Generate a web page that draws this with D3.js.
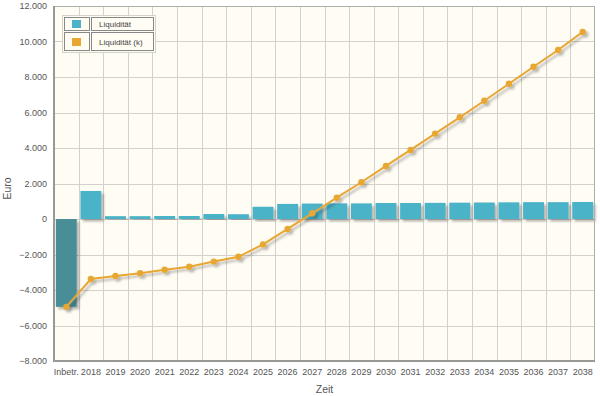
<!DOCTYPE html>
<html>
<head>
<meta charset="utf-8">
<script src="https://cdn.jsdelivr.net/npm/d3@7"></script>
<style>
  body { margin: 0; background: #fff; }
  svg { display: block; font-family: "Liberation Sans", Arial, sans-serif; }
</style>
</head>
<body>
<div id="chart"></div>
<script>
// data
const categories = ["Inbetr.", "2018", "2019", "2020", "2021", "2022", "2023", "2024", "2025", "2026", "2027",
  "2028", "2029", "2030", "2031", "2032", "2033", "2034", "2035", "2036", "2037", "2038"];
const liquiditaet = [-4950, 1580, 160, 160, 170, 170, 280, 270, 690, 850, 870,
  880, 880, 900, 900, 910, 920, 930, 940, 950, 950, 960];
const liquiditaetKum = [-4950, -3380, -3210, -3060, -2860, -2690, -2400, -2130, -1430, -560, 320,
  1200, 2070, 2990, 3890, 4810, 5730, 6660, 7620, 8580, 9520, 10540];
const yTicks = [-8000, -6000, -4000, -2000, 0, 2000, 4000, 6000, 8000, 10000, 12000];
const seriesNames = ["Liquidität", "Liquidität (k)"];

const width = 600, height = 396;
const plot = {left: 54, right: 595, top: 6, bottom: 361};

const fmt = d3.formatLocale({decimal: ",", thousands: ".", grouping: [3], currency: ["", "€"]}).format(",.0f");

const svg = d3.select("#chart").append("svg")
  .attr("width", width).attr("height", height);

const defs = svg.append("defs");
const shadow = defs.append("filter").attr("id", "shadow")
  .attr("x", "-20%").attr("y", "-20%").attr("width", "140%").attr("height", "140%");
shadow.append("feDropShadow").attr("dx", 2.5).attr("dy", 2.5).attr("stdDeviation", 1.3)
  .attr("flood-color", "#000").attr("flood-opacity", 0.28);

const x = d3.scaleBand().domain(categories).range([plot.left, plot.right]).padding(0);
const y = d3.scaleLinear().domain([-8000, 12000]).range([plot.bottom, plot.top]);

// background
svg.append("rect")
  .attr("x", plot.left).attr("y", plot.top)
  .attr("width", plot.right - plot.left).attr("height", plot.bottom - plot.top)
  .attr("fill", "#fffcf4");

// grid
const grid = svg.append("g").attr("stroke", "#d3d1cc").attr("stroke-width", 1);
grid.selectAll("line.h").data(yTicks).enter().append("line")
  .attr("x1", plot.left).attr("x2", plot.right)
  .attr("y1", d => Math.round(y(d)) + 0.5).attr("y2", d => Math.round(y(d)) + 0.5);
grid.selectAll("line.v").data(categories.slice(1)).enter().append("line")
  .attr("y1", plot.top).attr("y2", plot.bottom)
  .attr("x1", d => Math.round(x(d)) + 0.5).attr("x2", d => Math.round(x(d)) + 0.5);

// bars
const bw = x.bandwidth() * 0.85;
svg.append("g").selectAll("rect").data(categories).enter().append("rect")
  .attr("x", d => x(d) + (x.bandwidth() - bw) / 2)
  .attr("y", (d, i) => y(Math.max(0, liquiditaet[i])))
  .attr("width", bw)
  .attr("height", (d, i) => Math.abs(y(liquiditaet[i]) - y(0)))
  .attr("fill", (d, i) => liquiditaet[i] < 0 ? "#4a8d97" : "#4bb3c7")
  .attr("filter", "url(#shadow)");

// line
const cx = d => x(d) + x.bandwidth() / 2;
const line = d3.line().x((d, i) => cx(categories[i])).y(d => y(d));
const lg = svg.append("g").attr("filter", "url(#shadow)");
lg.append("path").datum(liquiditaetKum)
  .attr("d", line).attr("fill", "none")
  .attr("stroke", "#e8a633").attr("stroke-width", 2);
lg.selectAll("circle").data(liquiditaetKum).enter().append("circle")
  .attr("cx", (d, i) => cx(categories[i])).attr("cy", d => y(d))
  .attr("r", 3.2).attr("fill", "#e8a633");

// frame
svg.append("rect")
  .attr("x", plot.left + 0.5).attr("y", plot.top + 0.5)
  .attr("width", plot.right - plot.left - 1).attr("height", plot.bottom - plot.top - 1)
  .attr("fill", "none").attr("stroke", "#b0aea9").attr("stroke-width", 1);
svg.append("line").attr("x1", plot.left).attr("x2", plot.left)
  .attr("y1", plot.top).attr("y2", plot.bottom + 1)
  .attr("stroke", "#9a9894").attr("stroke-width", 2);
svg.append("line").attr("x1", plot.left - 1).attr("x2", plot.right)
  .attr("y1", plot.bottom).attr("y2", plot.bottom)
  .attr("stroke", "#9a9894").attr("stroke-width", 2);

// axes
const yAxis = svg.append("g")
  .attr("transform", `translate(${plot.left},0)`)
  .call(d3.axisLeft(y).tickValues(yTicks).tickFormat(fmt).tickSize(0).tickPadding(7));
yAxis.select(".domain").remove();
yAxis.selectAll("text").attr("font-size", "9px").attr("fill", "#555")
  .attr("font-family", "Liberation Sans, Arial, sans-serif");

const xAxis = svg.append("g")
  .attr("transform", `translate(0,${plot.bottom})`)
  .call(d3.axisBottom(x).tickSize(0).tickPadding(8));
xAxis.select(".domain").remove();
xAxis.selectAll("text").attr("font-size", "9px").attr("fill", "#555")
  .attr("font-family", "Liberation Sans, Arial, sans-serif");

svg.append("text").text("Euro")
  .attr("transform", `translate(11,${(plot.top + plot.bottom) / 2 + 5}) rotate(-90)`)
  .attr("text-anchor", "middle").attr("font-size", "10.5px").attr("fill", "#555");
svg.append("text").text("Zeit")
  .attr("x", (plot.left + plot.right) / 2).attr("y", 393)
  .attr("text-anchor", "middle").attr("font-size", "10.5px").attr("fill", "#555");

// legend
const legend = svg.append("g");
legend.append("rect").attr("x", 62.5).attr("y", 15.5).attr("width", 93).attr("height", 37)
  .attr("fill", "#fffcf4").attr("stroke", "#d4d2cd");
const colors = ["#4bb3c7", "#e8a633"];
const rows = legend.selectAll("g").data(seriesNames).enter().append("g")
  .attr("transform", (d, i) => `translate(0,${i === 0 ? 17 : 32})`);
rows.append("rect").attr("x", 64.5).attr("y", 0.5).attr("width", 25).attr("height", (d, i) => i === 0 ? 13 : 18)
  .attr("fill", "none").attr("stroke", "#888");
rows.append("rect").attr("x", 91.5).attr("y", 0.5).attr("width", 62).attr("height", (d, i) => i === 0 ? 13 : 18)
  .attr("fill", "none").attr("stroke", "#888");
rows.append("rect").attr("x", 72).attr("y", (d, i) => i === 0 ? 3 : 6).attr("width", 9).attr("height", 8)
  .attr("fill", (d, i) => colors[i]);
rows.append("text").text(d => d)
  .attr("x", 99).attr("y", (d, i) => i === 0 ? 10 : 13)
  .attr("font-size", "8px").attr("fill", "#444");
</script>
</body>
</html>
